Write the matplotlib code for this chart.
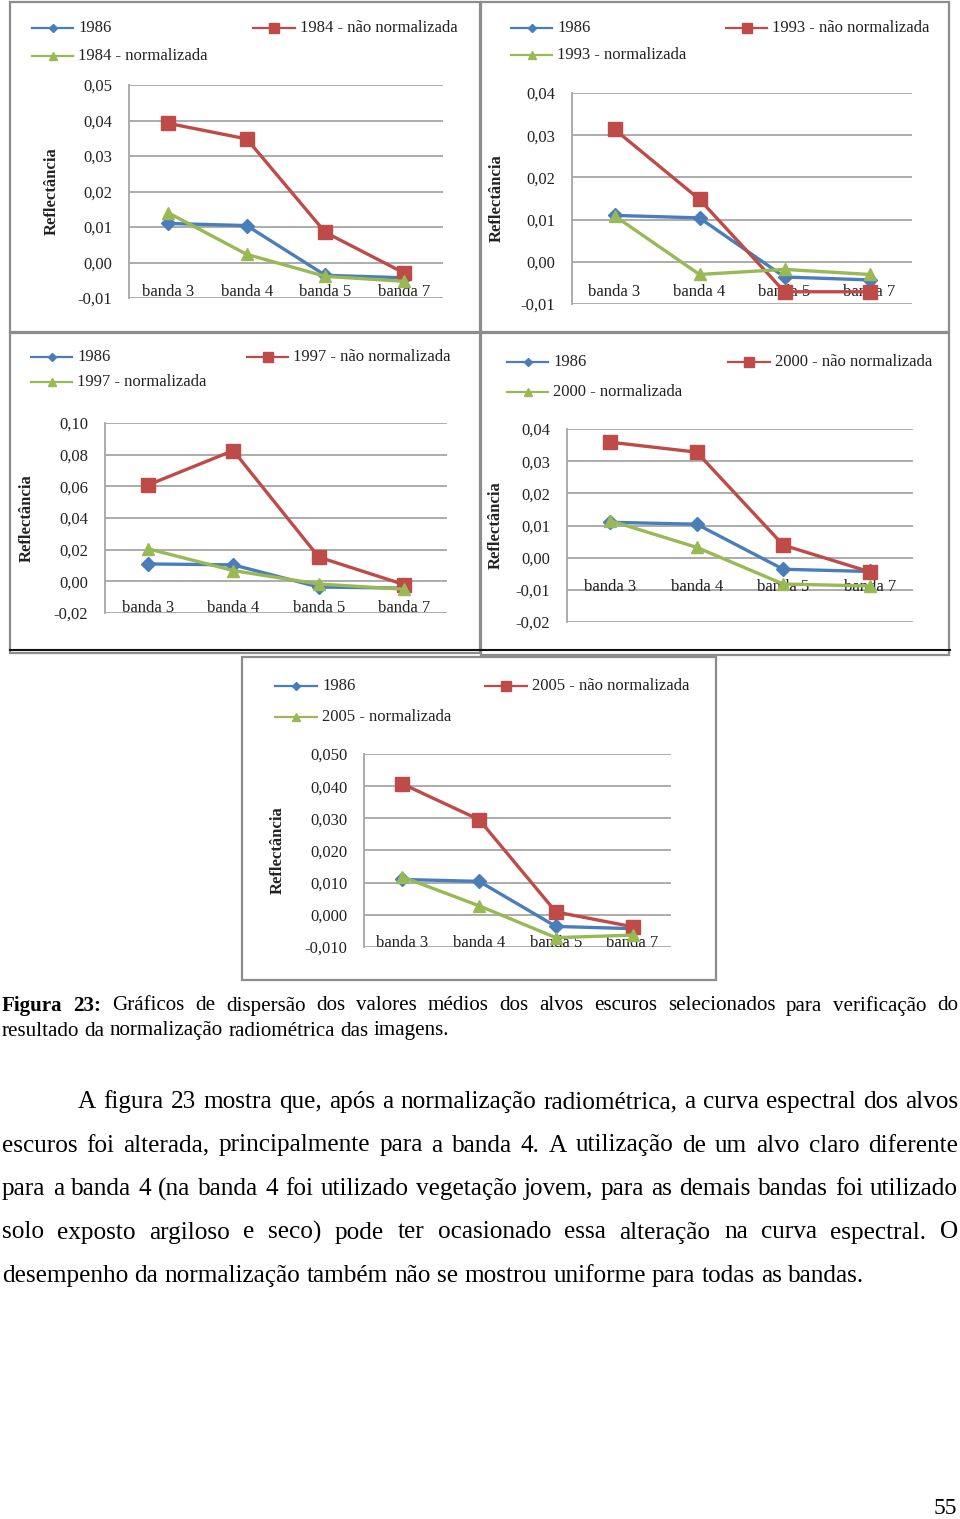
import matplotlib
matplotlib.use('Agg')
import matplotlib.pyplot as plt
from matplotlib.lines import Line2D
from matplotlib.patches import Rectangle
from matplotlib.ticker import FixedLocator, FuncFormatter
import numpy as np

plt.rcParams['font.family'] = ['Liberation Serif', 'DejaVu Serif']

W, H = 960, 1519

# dados
bandas = ['banda 3', 'banda 4', 'banda 5', 'banda 7']
ref_1986 = [0.0110, 0.0104, -0.0036, -0.0043]

anos = ['1984', '1993', '1997', '2000', '2005']
nao_norm = {
    '1984': [0.0392, 0.0348, 0.0085, -0.0029],
    '1993': [0.0314, 0.0148, -0.0071, -0.0071],
    '1997': [0.0608, 0.0826, 0.0153, -0.0021],
    '2000': [0.0359, 0.0328, 0.0039, -0.0044],
    '2005': [0.0407, 0.0296, 0.0009, -0.0037],
}
norm = {
    '1984': [0.0140, 0.0023, -0.0039, -0.0053],
    '1993': [0.0109, -0.0030, -0.0018, -0.0030],
    '1997': [0.0206, 0.0068, -0.0017, -0.0050],
    '2000': [0.0115, 0.0032, -0.0082, -0.0088],
    '2005': [0.0118, 0.0028, -0.0071, -0.0063],
}

# layout de cada grafico (pixels)
paineis = [
    dict(ano='1984', rect=(129, 85, 443, 298), ylim=(-0.01, 0.05), step=0.01, dec=2,
         lab_y=-0.0083, ylab_x=52, frame=(10, 2, 480, 332),
         leg_rows=(28, 56), leg_l=(32, 73), leg_r=(253, 295)),
    dict(ano='1993', rect=(572, 93, 912, 304), ylim=(-0.01, 0.04), step=0.01, dec=2,
         lab_y=-0.0072, ylab_x=497, frame=(481, 2, 949, 332),
         leg_rows=(28, 55), leg_l=(511, 552), leg_r=(726, 767)),
    dict(ano='1997', rect=(105, 423, 447, 613), ylim=(-0.02, 0.10), step=0.02, dec=2,
         lab_y=-0.0168, ylab_x=27, frame=(10, 333, 480, 653),
         leg_rows=(357, 382), leg_l=(31, 72), leg_r=(247, 288)),
    dict(ano='2000', rect=(567, 429, 913, 622), ylim=(-0.02, 0.04), step=0.01, dec=2,
         lab_y=-0.0091, ylab_x=496, frame=(481, 333, 949, 655),
         leg_rows=(362, 392), leg_l=(507, 548), leg_r=(728, 770)),
    dict(ano='2005', rect=(364, 754, 671, 947), ylim=(-0.01, 0.05), step=0.01, dec=3,
         lab_y=-0.0088, ylab_x=278, frame=(242, 657, 716, 980),
         leg_rows=(686, 717), leg_l=(275, 317), leg_r=(485, 527)),
]

azul, vermelho, verde = '#4A7EBB', '#BE4B48', '#98B954'
grade = '#a6a6a6'
fs = 12

fig = plt.figure(figsize=(W / 100, H / 100), dpi=100)


def fx(x):
    return x / W


def fy(y):
    return 1 - y / H


def legenda(x0, x1, y, cor, marker, ms, texto):
    fig.add_artist(Line2D([fx(x0), fx(x1)], [fy(y), fy(y)], color=cor, lw=1.6,
                          transform=fig.transFigure))
    fig.add_artist(Line2D([fx((x0 + x1) / 2)], [fy(y)], marker=marker, ms=ms, color=cor,
                          transform=fig.transFigure))
    fig.text(fx(x1 + 5), fy(y), texto, fontsize=fs, va='center', ha='left', color='#222222')


for p in paineis:
    x0, y0, x1, y1 = p['frame']
    fig.add_artist(Rectangle((fx(x0), fy(y1)), fx(x1 - x0), (y1 - y0) / H, fill=False,
                             edgecolor='#8c8c8c', lw=1.6, transform=fig.transFigure))

    l, t, r, b = p['rect']
    ax = fig.add_axes([fx(l), fy(b), (r - l) / W, (b - t) / H])
    x = np.arange(len(bandas))
    ano = p['ano']
    ax.plot(x, ref_1986, color=azul, lw=2.4, marker='D', ms=7, zorder=3)
    ax.plot(x, nao_norm[ano], color=vermelho, lw=2.4, marker='s', ms=10.5, zorder=4)
    ax.plot(x, norm[ano], color=verde, lw=2.4, marker='^', ms=9, zorder=5)

    ymin, ymax = p['ylim']
    ax.set_ylim(ymin, ymax)
    ax.set_xlim(-0.5, len(bandas) - 0.5)
    n = int(round((ymax - ymin) / p['step']))
    ticks = np.linspace(ymin, ymax, n + 1)
    ax.yaxis.set_major_locator(FixedLocator(ticks))
    d = p['dec']
    ax.yaxis.set_major_formatter(FuncFormatter(
        lambda v, pos, d=d: f'{v:.{d}f}'.replace('.', ',').replace('-0,' + '0' * d, '0,' + '0' * d)))
    ax.set_xticks([])
    ax.tick_params(axis='y', length=0, pad=12, labelsize=fs, labelcolor='#222222')
    ax.grid(axis='y', color=grade, lw=1.3)
    ax.set_axisbelow(True)
    for s in ['top', 'right', 'bottom']:
        ax.spines[s].set_visible(False)
    ax.spines['left'].set_color(grade)
    ax.spines['left'].set_linewidth(1.3)
    for i, nome in enumerate(bandas):
        ax.text(i, p['lab_y'], nome, ha='center', va='center', fontsize=fs,
                color='#222222', zorder=2)

    fig.text(fx(p['ylab_x']), fy((t + b) / 2), 'Reflectância', rotation=90, ha='center',
             va='center', fontsize=fs, fontweight='bold', color='#222222')

    r1, r2 = p['leg_rows']
    legenda(*p['leg_l'], r1, azul, 'D', 4.5, '1986')
    legenda(*p['leg_r'], r1, vermelho, 's', 6.5, f'{ano} - não normalizada')
    legenda(*p['leg_l'], r2, verde, '^', 6, f'{ano} - normalizada')

# linha da borda inferior da pagina de graficos
fig.add_artist(Line2D([fx(10), fx(950)], [fy(650), fy(650)], color='#111111', lw=1.5,
                      transform=fig.transFigure))

renderer = fig.canvas.get_renderer()


def linha(palavras, x0, x1, y, size, justificar=True):
    objs = []
    for w in palavras:
        peso = 'normal'
        if isinstance(w, tuple):
            w, peso = w
        objs.append(fig.text(0, fy(y), w, fontsize=size, fontweight=peso, va='center',
                             ha='left', color='black'))
    larg = [o.get_window_extent(renderer).width for o in objs]
    if justificar and len(objs) > 1:
        gap = (x1 - x0 - sum(larg)) / (len(objs) - 1)
    else:
        gap = size * 0.25 * 100 / 72
    pos = x0
    for o, lw in zip(objs, larg):
        o.set_x(fx(pos))
        pos += lw + gap


cap = 15.1
linha([('Figura', 'bold'), ('23:', 'bold')] +
      'Gráficos de dispersão dos valores médios dos alvos escuros selecionados para verificação do'.split(),
      2, 958, 1006, cap)
linha('resultado da normalização radiométrica das imagens.'.split(), 2, 958, 1031, cap, False)

corpo = 18.2
texto = [
    ('A figura 23 mostra que, após a normalização radiométrica, a curva espectral dos alvos', 78, True),
    ('escuros foi alterada, principalmente para a banda 4. A utilização de um alvo claro diferente', 2, True),
    ('para a banda 4 (na banda 4 foi utilizado vegetação jovem, para as demais bandas foi utilizado', 2, True),
    ('solo exposto argiloso e seco) pode ter ocasionado essa alteração na curva espectral. O', 2, True),
    ('desempenho da normalização também não se mostrou uniforme para todas as bandas.', 2, False),
]
for k, (s, x0, j) in enumerate(texto):
    linha(s.split(), x0, 958, 1102 + k * 43.5, corpo, j)

fig.text(fx(945), fy(1508), '55', fontsize=17, ha='center', va='center')

fig.savefig('out.png', dpi=100)
